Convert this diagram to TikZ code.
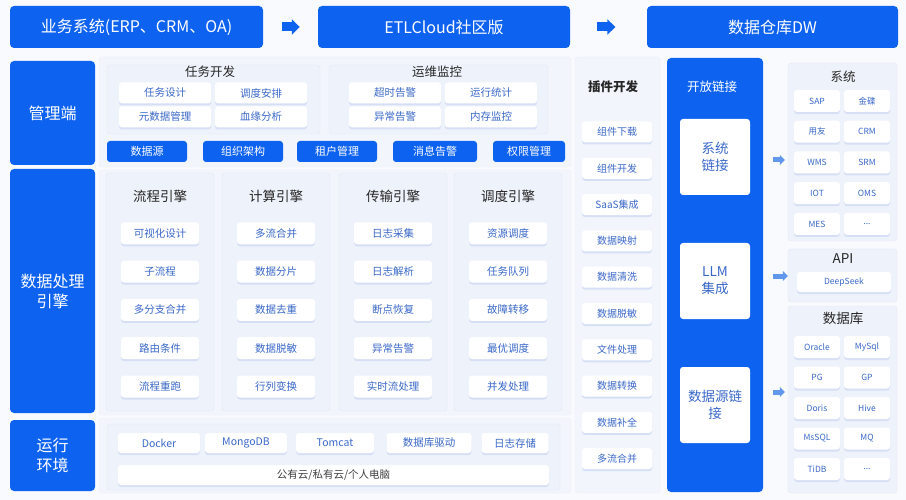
\documentclass[tikz,border=0pt]{standalone}
\usepackage{fontspec}
\setmainfont{Noto Sans CJK SC}
\usepackage{tikz}
\usetikzlibrary{arrows.meta, shadows, calc}
\definecolor{myblue}{RGB}{14, 98, 240}
\definecolor{mybg}{RGB}{248, 250, 254}
\definecolor{myouter}{RGB}{242, 245, 252}
\definecolor{mypanel}{RGB}{238, 242, 250}
\definecolor{myline}{RGB}{226, 232, 244}
\definecolor{mytext}{RGB}{58, 104, 200}
\definecolor{myshade}{RGB}{212, 222, 244}
\definecolor{myarrow}{RGB}{98, 152, 236}

\begin{document}
\begin{tikzpicture}[
    x = 1pt, y = -1pt,
    blk/.style = {fill = myblue, rounded corners = 4pt, text = white, align = center, inner sep = 0pt, font = \fontsize{16}{20}\selectfont},
    outer/.style = {fill = myouter, draw = myline!70, rounded corners = 3pt},
    pnl/.style = {fill = mypanel, draw = myline, rounded corners = 3pt},
    itm/.style = {fill = white, rounded corners = 3pt, text = mytext, inner sep = 0pt, minimum height = 21pt, font = \fontsize{10.5}{12}\selectfont,
        drop shadow = {shadow xshift = 0pt, shadow yshift = -2pt, fill = myshade, opacity = 0.9}},
    sm/.style = {minimum width = 46pt, minimum height = 22pt, font = \fontsize{8.5}{10}\selectfont},
    btn/.style = {fill = myblue, rounded corners = 3pt, text = white, inner sep = 0pt, minimum height = 21pt, font = \fontsize{11}{12}\selectfont},
    ttl/.style = {text = black!85, font = \fontsize{12.5}{15}\selectfont},
    bar/.style = {line width = 9pt, myblue, -{Triangle[length = 8pt, width = 15pt]}},
    sar/.style = {line width = 5pt, myarrow, -{Triangle[length = 5pt, width = 10pt]}},
]
\useasboundingbox (0,0) rectangle (906,500);
\fill[mybg] (0,0) rectangle (906,500);

% top row
\node[blk, minimum width = 253pt, minimum height = 42pt] (src) at (136.5, 27) {业务系统(ERP、CRM、OA)};
\node[blk, minimum width = 252pt, minimum height = 42pt] (etl) at (444, 27) {ETLCloud社区版};
\node[blk, minimum width = 251pt, minimum height = 42pt] (dw) at (772.5, 27) {数据仓库DW};
\draw[bar] ($(src.east)!0.34!(etl.west)$) -- ($(src.east)!0.67!(etl.west)$);
\draw[bar] ($(etl.east)!0.35!(dw.west)$) -- ($(etl.east)!0.59!(dw.west)$);

% left column
\node[blk, minimum width = 85pt, minimum height = 104pt] (mgr) at (52.5, 113) {管理端};
\node[blk, minimum width = 85pt, minimum height = 244pt] (eng) at (52.5, 291) {数据处理\\引擎};
\node[blk, minimum width = 85pt, minimum height = 71pt] (run) at (52.5, 455.5) {运行\\环境};

% background panels
\path[outer] (99,57) rectangle (571,167);
\path[outer] (99,170) rectangle (571,415);
\path[outer] (99,418) rectangle (571,493);
\path[outer] (575,57) rectangle (660,493);

% management
\draw[pnl] (107,65) rectangle (320,134);
\draw[pnl] (329,65) rectangle (548,134);
\node[ttl] (tdev) at (210, 72) {任务开发};
\node[ttl] (tops) at (437, 72) {运维监控};
\begin{scope}[every node/.append style = {itm, minimum width = 92pt}]
\node (d1) at (165, 93) {任务设计};
\node (d2) at (261, 93) {调度安排};
\node (d3) at (165, 117) {元数据管理};
\node (d4) at (261, 117) {血缘分析};
\node (o1) at (395, 93) {超时告警};
\node (o2) at (491, 93) {运行统计};
\node (o3) at (395, 117) {异常告警};
\node (o4) at (491, 117) {内存监控};
\end{scope}
\node[btn, minimum width = 80pt] (b1) at (147, 151.5) {数据源};
\node[btn, minimum width = 80pt] (b2) at (243, 151.5) {组织架构};
\node[btn, minimum width = 80pt] (b3) at (337, 151.5) {租户管理};
\node[btn, minimum width = 84pt] (b4) at (435, 151.5) {消息告警};
\node[btn, minimum width = 72pt] (b5) at (529, 151.5) {权限管理};

% engines
\foreach \cx/\t/\items [count=\i] in {
    160/流程引擎/{可视化设计, 子流程, 多分支合并, 路由条件, 流程重跑},
    276/计算引擎/{多流合并, 数据分片, 数据去重, 数据脱敏, 行列变换},
    393/传输引擎/{日志采集, 日志解析, 断点恢复, 异常告警, 实时流处理},
    508/调度引擎/{资源调度, 任务队列, 故障转移, 最优调度, 并发处理}}
{
    \draw[pnl] (\cx-54, 173) rectangle (\cx+54, 411);
    \node[ttl, font = \fontsize{13.5}{16}\selectfont] (et\i) at (\cx, 196) {\t};
    \foreach \s [count=\j] in \items
        \node[itm, minimum width = 78pt, minimum height = 22pt] (e\i\j) at (\cx, {195+38.3*\j}) {\s};
}

% runtime
\draw[pnl] (107,424) rectangle (560,490);
\begin{scope}[every node/.append style = {itm, minimum height = 20pt}]
\node[minimum width = 82pt] (r1) at (159, 443) {Docker};
\node[minimum width = 82pt] (r2) at (246, 443) {MongoDB};
\node[minimum width = 78pt] (r3) at (335, 443) {Tomcat};
\node[minimum width = 85pt] (r4) at (429, 443) {数据库驱动};
\node[minimum width = 67pt] (r5) at (515, 443) {日志存储};
\node[minimum width = 431pt, text = black!75] (cloud) at (333.5, 475) {公有云/私有云/个人电脑};
\end{scope}

% plugins
\node[ttl, font = \fontsize{12.5}{15}\selectfont\bfseries] (tplg) at (613, 87) {插件开发};
\foreach \s [count=\j] in {组件下载, 组件开发, SaaS集成, 数据映射, 数据清洗, 数据脱敏, 文件处理, 数据转换, 数据补全, 多流合并}
    \node[itm, minimum width = 70pt, font = \fontsize{10}{11}\selectfont] (p\j) at (617, {95.7+36.3*\j}) {\s};

% open links
\node[blk, minimum width = 96pt, minimum height = 434pt] (opn) at (715, 275) {};
\node[text = white, font = \fontsize{12.5}{15}\selectfont] (topn) at (712, 87) {开放链接};
\begin{scope}[every node/.append style = {fill = white, rounded corners = 3pt, text = mytext, align = center, minimum width = 70pt, minimum height = 76pt, font = \fontsize{13.5}{17}\selectfont}]
\node (k1) at (715, 157) {系统\\链接};
\node (k2) at (715, 281) {LLM\\集成};
\node (k3) at (715, 405) {数据源链\\接};
\end{scope}

% right side
\draw[pnl] (788,63) rectangle (897,241);
\draw[pnl] (788,249) rectangle (897,302);
\draw[pnl] (788,306) rectangle (897,493);
\node[ttl] (tsys) at (843, 77) {系统};
\node[ttl, font = \fontsize{13.5}{16}\selectfont] (tapi) at (843, 259) {API};
\node[ttl, font = \fontsize{13.5}{16}\selectfont] (tdb) at (843, 318) {数据库};
\foreach \l/\r [count=\j] in {SAP/金碟, 用友/CRM, WMS/SRM, IOT/OMS, MES/{...}}
{
    \node[itm, sm] (sl\j) at (817, {70.25+30.75*\j}) {\l};
    \node[itm, sm] (sr\j) at (867, {70.25+30.75*\j}) {\r};
}
\node[itm, minimum width = 94pt, minimum height = 20pt, font = \fontsize{8.5}{10}\selectfont] (ds) at (844, 282) {DeepSeek};
\foreach \l/\r [count=\j] in {Oracle/MySql, PG/GP, Doris/Hive, MsSQL/MQ, TiDB/{...}}
{
    \node[itm, sm] (dl\j) at (817, {316.5+30.5*\j}) {\l};
    \node[itm, sm] (dr\j) at (867, {316.5+30.5*\j}) {\r};
}

% small arrows
\coordinate (a1) at (773, 160);
\coordinate (a2) at (773, 276);
\coordinate (a3) at (773, 392);
\draw[sar] (a1) -- ($(a1 -| sl3.west)+(-9,0)$);
\draw[sar] (a2) -- ($(a2 -| ds.west)+(-9,0)$);
\draw[sar] (a3) -- ($(a3 -| dl2.west)+(-9,0)$);

\end{tikzpicture}
\end{document}
